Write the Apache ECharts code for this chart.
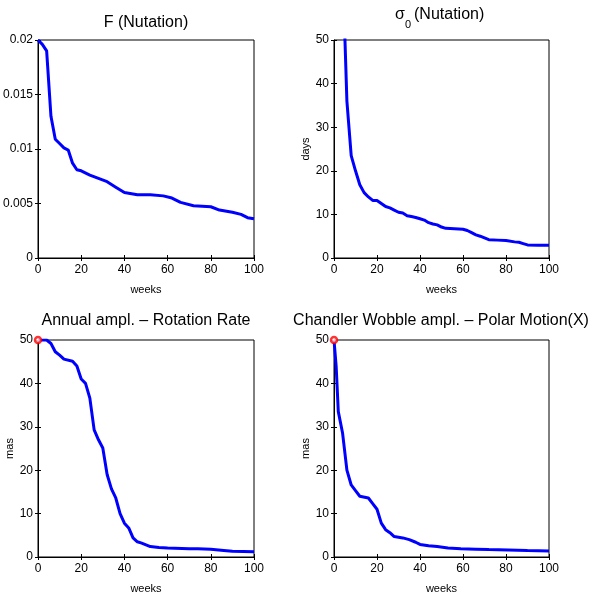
<!DOCTYPE html>
<html>
<head>
<meta charset="utf-8">
<script src="https://cdn.jsdelivr.net/npm/echarts@6/dist/echarts.min.js"></script>
<style>html,body{margin:0;padding:0;background:#fff;}#c{width:589px;height:598px;}</style>
</head>
<body>
<div id="c"></div>
<script>
// ---- data ----
const titleTexts = ["F (Nutation)", "\u03C3", "0", "(Nutation)", "Annual ampl. \u2013 Rotation Rate", "Chandler Wobble ampl. \u2013 Polar Motion(X)"];
const yNames = ["", "days", "mas", "mas"];
const xNames = ["weeks", "weeks", "weeks", "weeks"];
const xTicks = [0, 20, 40, 60, 80, 100];
const yMax = [0.02, 50, 50, 50];
const yStep = [0.005, 10, 10, 10];

const fWeeks = [0, 2, 4, 6, 8, 10, 12, 14, 16, 18, 20, 24, 28, 32, 36, 40, 46, 52, 58, 62, 66, 72, 80, 84, 90, 94, 97, 100];
const fValues = [0.0200, 0.0196, 0.0190, 0.0130, 0.0109, 0.0105, 0.0101, 0.0099, 0.0087, 0.0081, 0.0080, 0.0076, 0.0073, 0.0070, 0.0065, 0.0060, 0.0058, 0.0058, 0.0057, 0.0055, 0.0051, 0.0048, 0.0047, 0.0044, 0.0042, 0.0040, 0.0037, 0.0036];

const sigmaWeeks = [0, 2, 4, 6, 8, 10, 12, 14, 16, 18, 20, 22, 24, 26, 28, 30, 32, 34, 36, 38, 40, 42, 44, 46, 48, 50, 52, 56, 60, 62, 64, 66, 68, 70, 72, 76, 80, 84, 86, 88, 90, 95, 100];
const sigmaValues = [250, 120, 67, 36, 23.5, 20, 16.8, 15, 14, 13.2, 13.2, 12.5, 11.8, 11.5, 11, 10.5, 10.3, 9.7, 9.5, 9.3, 9, 8.7, 8.1, 7.8, 7.6, 7.1, 6.8, 6.7, 6.6, 6.3, 5.8, 5.3, 5, 4.6, 4.2, 4.1, 4.0, 3.7, 3.6, 3.3, 3.0, 2.9, 2.9];

const annualWeeks = [0, 4, 6, 8, 10, 12, 16, 18, 20, 22, 24, 26, 28, 30, 32, 34, 36, 38, 40, 42, 44, 46, 48, 52, 56, 60, 70, 74, 80, 86, 90, 100];
const annualValues = [50, 50, 49.2, 47.3, 46.5, 45.6, 45.1, 44.0, 41, 40, 36.6, 29.3, 27, 25.1, 19, 15.7, 13.6, 10, 7.8, 6.7, 4.4, 3.5, 3.2, 2.4, 2.2, 2.1, 1.9, 1.9, 1.8, 1.5, 1.3, 1.2];

const chandlerWeeks = [0, 1, 2, 4, 6, 8, 10, 12, 16, 18, 20, 22, 24, 26, 28, 32, 35, 38, 40, 44, 48, 53, 59, 66, 72, 81, 90, 100];
const chandlerValues = [50, 44, 33.5, 28.5, 20, 16.6, 15.3, 14, 13.6, 12.3, 11, 7.8, 6.3, 5.6, 4.7, 4.4, 4.0, 3.4, 2.9, 2.6, 2.4, 2.1, 1.9, 1.8, 1.7, 1.6, 1.5, 1.4];

const startMarkerWeeks = [null, null, 0, 0];
const startMarkerValues = [null, null, 50, 50];

// ---- layout ----
const FONT = "Liberation Sans";
const grids = [
  {left: 38, top: 40, width: 216, height: 218},
  {left: 334, top: 40, width: 215, height: 218},
  {left: 38, top: 340, width: 216, height: 217},
  {left: 334, top: 340, width: 215, height: 217}
];
const titleLayout = [
  {left: 146, top: 15, align: 'center', size: 16},
  {left: 395, top: 7, align: 'left', size: 16},
  {left: 405, top: 19, align: 'left', size: 11},
  {left: 414, top: 7, align: 'left', size: 16},
  {left: 146, top: 313, align: 'center', size: 16},
  {left: 441, top: 313, align: 'center', size: 16}
];
const seriesX = [fWeeks, sigmaWeeks, annualWeeks, chandlerWeeks];
const seriesY = [fValues, sigmaValues, annualValues, chandlerValues];

const zip = (a, b) => a.map((v, i) => [v, b[i]]);

const option = {
  animation: false,
  backgroundColor: '#fff',
  title: titleTexts.map((t, i) => ({
    text: t,
    left: titleLayout[i].left,
    top: titleLayout[i].top,
    textAlign: titleLayout[i].align,
    padding: 0,
    textStyle: {fontFamily: FONT, fontSize: titleLayout[i].size, fontWeight: 'normal', color: '#000'}
  })),
  grid: grids.map(g => Object.assign({show: true, borderColor: '#000', borderWidth: 1, containLabel: false, outerBoundsMode: 'none'}, g)),
  xAxis: [],
  yAxis: [],
  series: []
};

grids.forEach((g, i) => {
  option.xAxis.push({
    type: 'value', gridIndex: i, min: xTicks[0], max: xTicks[xTicks.length - 1], interval: xTicks[1] - xTicks[0],
    name: xNames[i], nameLocation: 'middle', nameGap: 26,
    nameTextStyle: {fontFamily: FONT, fontSize: 11, color: '#000'},
    axisLine: {show: true, lineStyle: {color: '#000', width: 1}},
    axisTick: {show: true, inside: true, length: 3, lineStyle: {color: '#000'}},
    axisLabel: {fontFamily: FONT, fontSize: 12, color: '#000', margin: 6},
    splitLine: {show: false}
  });
  option.xAxis.push({
    type: 'value', gridIndex: i, position: 'top', min: xTicks[0], max: xTicks[xTicks.length - 1], interval: xTicks[1] - xTicks[0],
    axisLine: {show: false},
    axisTick: {show: true, inside: true, length: 3, lineStyle: {color: '#000'}},
    axisLabel: {show: false}, splitLine: {show: false}
  });
  option.yAxis.push({
    type: 'value', gridIndex: i, min: 0, max: yMax[i], interval: yStep[i],
    name: yNames[i], nameLocation: 'middle', nameGap: 19,
    nameTextStyle: {fontFamily: FONT, fontSize: 11, color: '#000'},
    axisLine: {show: true, lineStyle: {color: '#000', width: 1}},
    axisTick: {show: true, inside: true, length: 3, lineStyle: {color: '#000'}},
    axisLabel: {fontFamily: FONT, fontSize: 12, color: '#000', margin: 5},
    splitLine: {show: false}
  });
  option.yAxis.push({
    type: 'value', gridIndex: i, position: 'right', min: 0, max: yMax[i], interval: yStep[i],
    axisLine: {show: false},
    axisTick: {show: true, inside: true, length: 3, lineStyle: {color: '#000'}},
    axisLabel: {show: false}, splitLine: {show: false}
  });
  option.series.push({
    type: 'line', xAxisIndex: 2 * i, yAxisIndex: 2 * i,
    data: zip(seriesX[i], seriesY[i]),
    showSymbol: false, symbol: 'none', clip: true,
    lineStyle: {color: '#0000ff', width: 3},
    z: 3
  });
  if (startMarkerWeeks[i] !== null) {
    option.series.push({
      type: 'scatter', xAxisIndex: 2 * i, yAxisIndex: 2 * i,
      data: [[startMarkerWeeks[i], startMarkerValues[i]]],
      symbol: 'circle', symbolSize: 6, clip: false,
      itemStyle: {color: '#fff', borderColor: '#ff0000', borderWidth: 2.5},
      z: 5
    });
  }
});

const chart = echarts.init(document.getElementById('c'), null, {renderer: 'canvas'});
chart.setOption(option);
</script>
</body>
</html>
